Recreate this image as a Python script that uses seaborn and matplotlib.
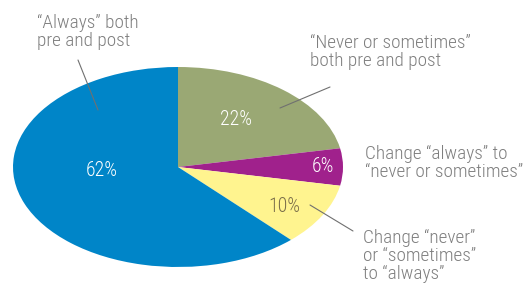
import matplotlib
matplotlib.use("Agg")
import matplotlib.pyplot as plt
import seaborn as sns
from matplotlib.lines import Line2D

sns.set_theme(style="white")
plt.rcParams['font.family'] = ['Roboto Condensed', 'DejaVu Sans']

# Data
categories = ["\u201cNever or sometimes\u201d\nboth pre and post",
              "Change \u201calways\u201d to\n\u201cnever or sometimes\u201d",
              "Change \u201cnever\u201d\nor \u201csometimes\u201d\nto \u201calways\u201d",
              "\u201cAlways\u201d both\npre and post"]
values = [22, 6, 10, 62]
pct_labels = ["22%", "6%", "10%", "62%"]
colors = ["#9AA874", "#A0218C", "#FFF48F", "#0085C8"]
pct_colors = ["white", "white", "#7A6E4A", "white"]

W, H = 526, 289
fig = plt.figure(figsize=(W / 100, H / 100), dpi=100)

# ellipse: x from 13 to 343 px, y from 67 to 267 px
cx, cy, rx, ry = 178, 167, 165, 100
ax = fig.add_axes([(cx - rx) / W, (H - (cy + ry)) / H, 2 * rx / W, 2 * ry / H])
ax.pie(values, colors=colors, startangle=90, counterclock=False,
       wedgeprops=dict(linewidth=0))
ax.set_aspect('auto')
ax.set_xlim(-1, 1)
ax.set_ylim(-1, 1)
ax.axis('off')

def px(x, y):
    return x / W, 1 - y / H

text_color = "#7F7F7F"
fs = 13.9
# percent labels
pct_pos = [(236, 120), (323, 166), (284, 206), (102, 171)]
for lab, c, (x, y) in zip(pct_labels, pct_colors, pct_pos):
    fig.text(*px(x, y), lab, color=c, fontsize=14.2, ha="center", va="center",
             fontweight="light")

# category labels
label_pos = [(310, 34), (365, 145), (363, 229), (37, 14)]
for lab, (x, y) in zip(categories, label_pos):
    fig.text(*px(x, y), lab, color=text_color, fontsize=fs, ha="left", va="top",
             linespacing=1.0, fontweight="light")

# leader lines
leaders = [((330, 87), (280, 108)), ((310, 205), (353, 231)), ((78, 60), (98, 110))]
for (x0, y0), (x1, y1) in leaders:
    fig.add_artist(Line2D([x0 / W, x1 / W], [1 - y0 / H, 1 - y1 / H],
                          transform=fig.transFigure, color="#707070", linewidth=0.8))

fig.savefig("out.png", dpi=100)
